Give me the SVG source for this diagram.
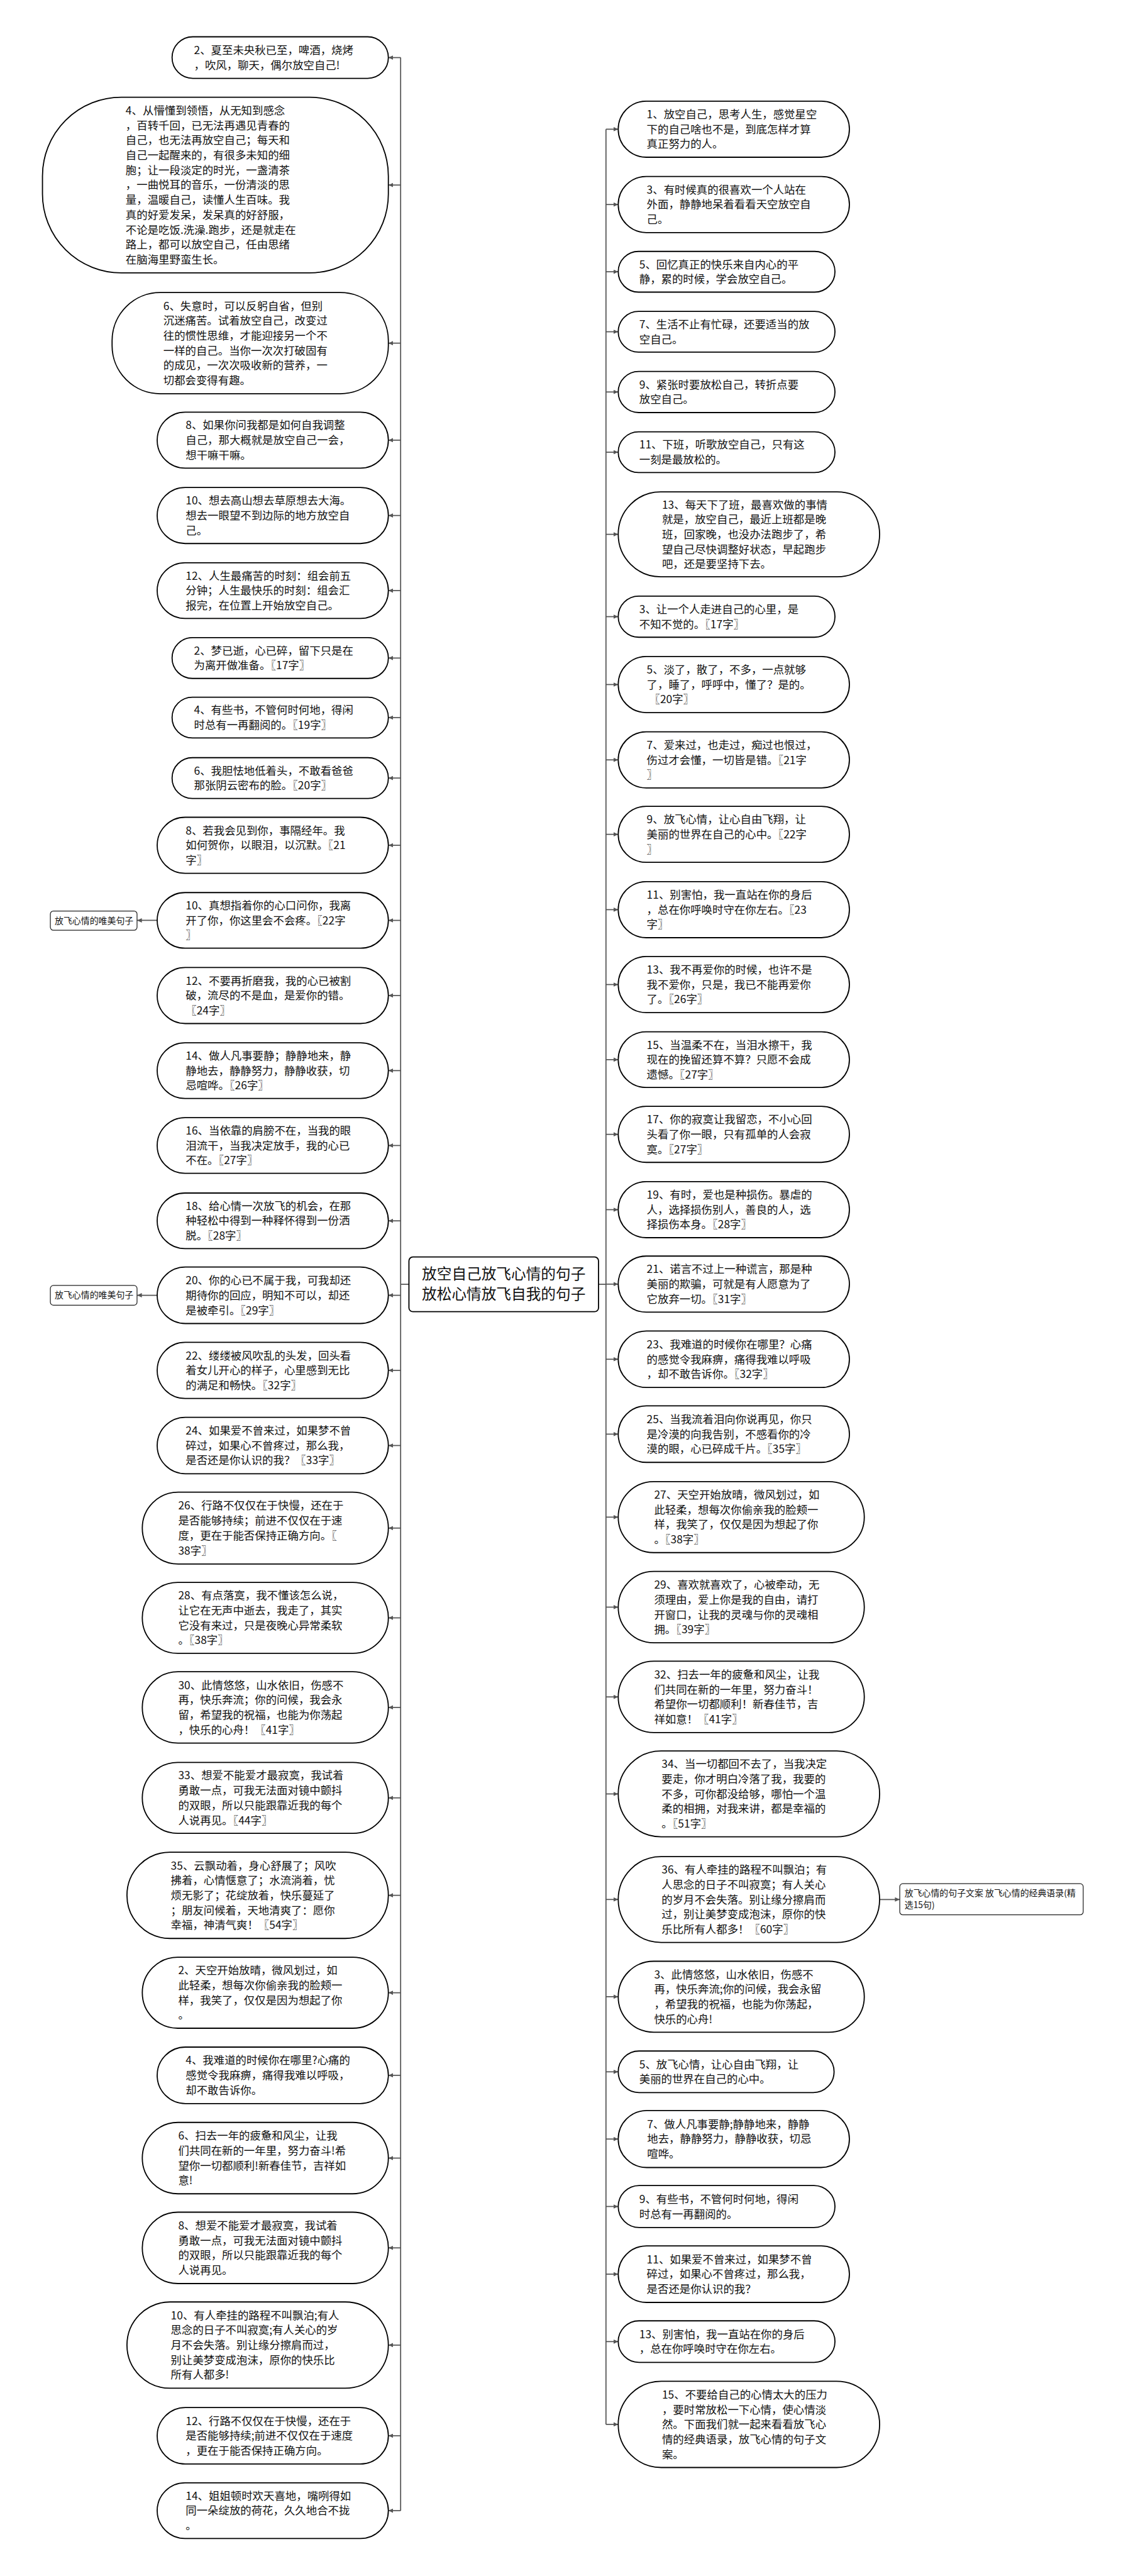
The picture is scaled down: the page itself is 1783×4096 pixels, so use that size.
<svg xmlns="http://www.w3.org/2000/svg" width="1783" height="4096" viewBox="0 0 1783 4096">
<style>
.n{fill:#fff;stroke:#000;stroke-width:2.6}
.b{fill:#fff;stroke:#000;stroke-width:2.6}
.lb{fill:#fff;stroke:#222;stroke-width:1.8}
.t{font-family:"Noto Sans CJK SC","Noto Sans",sans-serif;font-size:25px;fill:#111}
.s{font-family:"Noto Sans CJK SC","Noto Sans",sans-serif;font-size:20px;fill:#111}
.m{font-family:"Noto Sans CJK SC","Noto Sans",sans-serif;font-size:34px;fill:#111;text-anchor:middle}
.c{fill:none;stroke:#555;stroke-width:2.5}
</style>
<defs>
<marker id="ar" markerUnits="userSpaceOnUse" markerWidth="12" markerHeight="10" refX="11" refY="5" orient="auto"><path d="M0,0 L11,5 L0,10 z" fill="#555"/></marker>
</defs>
<rect width="1783" height="4096" fill="#fff"/>
<g transform="scale(0.6964)">
<g id="connectors">
<path class="c" d="M934,2932.5 H915 M915,131.5 V5732.5 M1367,2932.5 H1384 M1384,295 V5535.5"/>
<g marker-end="url(#ar)">
<path class="c" d="M915,131.5 H887"/><path class="c" d="M915,422.5 H887"/><path class="c" d="M915,783.5 H887"/><path class="c" d="M915,1005 H887"/><path class="c" d="M915,1177 H887"/><path class="c" d="M915,1348.5 H887"/><path class="c" d="M915,1502.5 H887"/><path class="c" d="M915,1638.5 H887"/><path class="c" d="M915,1776.5 H887"/><path class="c" d="M915,1930 H887"/><path class="c" d="M915,2101.5 H887"/><path class="c" d="M915,2273 H887"/><path class="c" d="M915,2444.5 H887"/><path class="c" d="M915,2615.5 H887"/><path class="c" d="M915,2787.5 H887"/><path class="c" d="M915,2957.5 H887"/><path class="c" d="M915,3129 H887"/><path class="c" d="M915,3300.5 H887"/><path class="c" d="M915,3489 H887"/><path class="c" d="M915,3694 H887"/><path class="c" d="M915,3898.5 H887"/><path class="c" d="M915,4105 H887"/><path class="c" d="M915,4327.5 H887"/><path class="c" d="M915,4550 H887"/><path class="c" d="M915,4738.5 H887"/><path class="c" d="M915,4927.5 H887"/><path class="c" d="M915,5132.5 H887"/><path class="c" d="M915,5354.5 H887"/><path class="c" d="M915,5561.5 H887"/><path class="c" d="M915,5732.5 H887"/>
<path class="c" d="M1384,295 H1412"/><path class="c" d="M1384,467 H1412"/><path class="c" d="M1384,620.5 H1412"/><path class="c" d="M1384,757.5 H1412"/><path class="c" d="M1384,895 H1412"/><path class="c" d="M1384,1032.5 H1412"/><path class="c" d="M1384,1220 H1412"/><path class="c" d="M1384,1408 H1412"/><path class="c" d="M1384,1563 H1412"/><path class="c" d="M1384,1735 H1412"/><path class="c" d="M1384,1905 H1412"/><path class="c" d="M1384,2077 H1412"/><path class="c" d="M1384,2248 H1412"/><path class="c" d="M1384,2419.5 H1412"/><path class="c" d="M1384,2590 H1412"/><path class="c" d="M1384,2762 H1412"/><path class="c" d="M1384,2932 H1412"/><path class="c" d="M1384,3103.5 H1412"/><path class="c" d="M1384,3274.5 H1412"/><path class="c" d="M1384,3464 H1412"/><path class="c" d="M1384,3669.5 H1412"/><path class="c" d="M1384,3874.5 H1412"/><path class="c" d="M1384,4096 H1412"/><path class="c" d="M1384,4337 H1412"/><path class="c" d="M1384,4559 H1412"/><path class="c" d="M1384,4730.5 H1412"/><path class="c" d="M1384,4884 H1412"/><path class="c" d="M1384,5038 H1412"/><path class="c" d="M1384,5192.5 H1412"/><path class="c" d="M1384,5346.5 H1412"/><path class="c" d="M1384,5535.5 H1412"/>
<path class="c" d="M359,2101.5 H313"/><path class="c" d="M359,2957.5 H313"/><path class="c" d="M2009,4337 H2055"/>
</g>
</g>

<g id="center"><rect class="b" x="934" y="2870" width="433" height="125" rx="9"/><text class="m" y="2921"><tspan x="1150.5">放空自己放飞心情的句子</tspan><tspan x="1150.5" dy="45">放松心情放飞自我的句子</tspan></text></g>

<g id="label-left-1"><rect class="lb" x="115" y="2080" width="198" height="44" rx="7"/><text class="s" x="125" y="2109">放飞心情的唯美句子</text></g>
<g id="label-left-2"><rect class="lb" x="115" y="2935" width="198" height="45" rx="7"/><text class="s" x="125" y="2964.5">放飞心情的唯美句子</text></g>
<g id="label-right"><rect class="lb" x="2055" y="4301" width="419" height="71" rx="7"/><text class="s" y="4330"><tspan x="2066">放飞心情的句子文案 放飞心情的经典语录(精</tspan><tspan x="2066" dy="26">选15句)</tspan></text></g>

<g id="L1"><rect class="n" x="393" y="84" width="494" height="95" rx="47.5"/><text class="t" y="123.5"><tspan x="443">2、夏至未央秋已至，啤酒，烧烤</tspan><tspan x="443" dy="34">，吹风，聊天，偶尔放空自己!</tspan></text></g>
<g id="L2"><rect class="n" x="97" y="222" width="790" height="401" rx="180"/><text class="t" y="261.5"><tspan x="287">4、从懵懂到领悟，从无知到感念</tspan><tspan x="287" dy="34">，百转千回，已无法再遇见青春的</tspan><tspan x="287" dy="34">自己，也无法再放空自己；每天和</tspan><tspan x="287" dy="34">自己一起醒来的，有很多未知的细</tspan><tspan x="287" dy="34">胞；让一段淡定的时光，一盏清茶</tspan><tspan x="287" dy="34">，一曲悦耳的音乐，一份清淡的思</tspan><tspan x="287" dy="34">量，温暖自己，读懂人生百味。我</tspan><tspan x="287" dy="34">真的好爱发呆，发呆真的好舒服，</tspan><tspan x="287" dy="34">不论是吃饭.洗澡.跑步，还是就走在</tspan><tspan x="287" dy="34">路上，都可以放空自己，任由思绪</tspan><tspan x="287" dy="34">在脑海里野蛮生长。</tspan></text></g>
<g id="L3"><rect class="n" x="256" y="668" width="631" height="231" rx="110"/><text class="t" y="707.5"><tspan x="373">6、失意时，可以反躬自省，但别</tspan><tspan x="373" dy="34">沉迷痛苦。试着放空自己，改变过</tspan><tspan x="373" dy="34">往的惯性思维，才能迎接另一个不</tspan><tspan x="373" dy="34">一样的自己。当你一次次打破固有</tspan><tspan x="373" dy="34">的成见，一次次吸收新的营养，一</tspan><tspan x="373" dy="34">切都会变得有趣。</tspan></text></g>
<g id="L4"><rect class="n" x="359" y="941" width="528" height="128" rx="64"/><text class="t" y="980"><tspan x="424">8、如果你问我都是如何自我调整</tspan><tspan x="424" dy="34">自己，那大概就是放空自己一会，</tspan><tspan x="424" dy="34">想干嘛干嘛。</tspan></text></g>
<g id="L5"><rect class="n" x="359" y="1113" width="528" height="128" rx="64"/><text class="t" y="1152"><tspan x="424">10、想去高山想去草原想去大海。</tspan><tspan x="424" dy="34">想去一眼望不到边际的地方放空自</tspan><tspan x="424" dy="34">己。</tspan></text></g>
<g id="L6"><rect class="n" x="359" y="1285" width="528" height="127" rx="63.5"/><text class="t" y="1323.5"><tspan x="424">12、人生最痛苦的时刻：组会前五</tspan><tspan x="424" dy="34">分钟；人生最快乐的时刻：组会汇</tspan><tspan x="424" dy="34">报完，在位置上开始放空自己。</tspan></text></g>
<g id="L7"><rect class="n" x="393" y="1456" width="494" height="93" rx="46.5"/><text class="t" y="1494.5"><tspan x="443">2、梦已逝，心已碎，留下只是在</tspan><tspan x="443" dy="34">为离开做准备。〖17字〗</tspan></text></g>
<g id="L8"><rect class="n" x="393" y="1592" width="494" height="93" rx="46.5"/><text class="t" y="1630.5"><tspan x="443">4、有些书，不管何时何地，得闲</tspan><tspan x="443" dy="34">时总有一再翻阅的。〖19字〗</tspan></text></g>
<g id="L9"><rect class="n" x="393" y="1730" width="494" height="93" rx="46.5"/><text class="t" y="1768.5"><tspan x="443">6、我胆怯地低着头，不敢看爸爸</tspan><tspan x="443" dy="34">那张阴云密布的脸。〖20字〗</tspan></text></g>
<g id="L10"><rect class="n" x="359" y="1866" width="528" height="128" rx="64"/><text class="t" y="1905"><tspan x="424">8、若我会见到你，事隔经年。我</tspan><tspan x="424" dy="34">如何贺你，以眼泪，以沉默。〖21</tspan><tspan x="424" dy="34">字〗</tspan></text></g>
<g id="L11"><rect class="n" x="359" y="2038" width="528" height="127" rx="63.5"/><text class="t" y="2076.5"><tspan x="424">10、真想指着你的心口问你，我离</tspan><tspan x="424" dy="34">开了你，你这里会不会疼。〖22字</tspan><tspan x="424" dy="34">〗</tspan></text></g>
<g id="L12"><rect class="n" x="359" y="2209" width="528" height="128" rx="64"/><text class="t" y="2248"><tspan x="424">12、不要再折磨我，我的心已被割</tspan><tspan x="424" dy="34">破，流尽的不是血，是爱你的错。</tspan><tspan x="424" dy="34">〖24字〗</tspan></text></g>
<g id="L13"><rect class="n" x="359" y="2381" width="528" height="127" rx="63.5"/><text class="t" y="2419.5"><tspan x="424">14、做人凡事要静；静静地来，静</tspan><tspan x="424" dy="34">静地去，静静努力，静静收获，切</tspan><tspan x="424" dy="34">忌喧哗。〖26字〗</tspan></text></g>
<g id="L14"><rect class="n" x="359" y="2552" width="528" height="127" rx="63.5"/><text class="t" y="2590.5"><tspan x="424">16、当依靠的肩膀不在，当我的眼</tspan><tspan x="424" dy="34">泪流干，当我决定放手，我的心已</tspan><tspan x="424" dy="34">不在。〖27字〗</tspan></text></g>
<g id="L15"><rect class="n" x="359" y="2724" width="528" height="127" rx="63.5"/><text class="t" y="2762.5"><tspan x="424">18、给心情一次放飞的机会，在那</tspan><tspan x="424" dy="34">种轻松中得到一种释怀得到一份洒</tspan><tspan x="424" dy="34">脱。〖28字〗</tspan></text></g>
<g id="L16"><rect class="n" x="359" y="2893" width="528" height="129" rx="64.5"/><text class="t" y="2932.5"><tspan x="424">20、你的心已不属于我，可我却还</tspan><tspan x="424" dy="34">期待你的回应，明知不可以，却还</tspan><tspan x="424" dy="34">是被牵引。〖29字〗</tspan></text></g>
<g id="L17"><rect class="n" x="359" y="3065" width="528" height="128" rx="64"/><text class="t" y="3104"><tspan x="424">22、缕缕被风吹乱的头发，回头看</tspan><tspan x="424" dy="34">着女儿开心的样子，心里感到无比</tspan><tspan x="424" dy="34">的满足和畅快。〖32字〗</tspan></text></g>
<g id="L18"><rect class="n" x="359" y="3236" width="528" height="129" rx="64.5"/><text class="t" y="3275.5"><tspan x="424">24、如果爱不曾来过，如果梦不曾</tspan><tspan x="424" dy="34">碎过，如果心不曾疼过，那么我，</tspan><tspan x="424" dy="34">是否还是你认识的我？〖33字〗</tspan></text></g>
<g id="L19"><rect class="n" x="325" y="3407" width="562" height="164" rx="82"/><text class="t" y="3447"><tspan x="407">26、行路不仅仅在于快慢，还在于</tspan><tspan x="407" dy="34">是否能够持续；前进不仅仅在于速</tspan><tspan x="407" dy="34">度，更在于能否保持正确方向。〖</tspan><tspan x="407" dy="34">38字〗</tspan></text></g>
<g id="L20"><rect class="n" x="325" y="3613" width="562" height="162" rx="81"/><text class="t" y="3652"><tspan x="407">28、有点落寞，我不懂该怎么说，</tspan><tspan x="407" dy="34">让它在无声中逝去，我走了，其实</tspan><tspan x="407" dy="34">它没有来过，只是夜晚心异常柔软</tspan><tspan x="407" dy="34">。〖38字〗</tspan></text></g>
<g id="L21"><rect class="n" x="325" y="3817" width="562" height="163" rx="81.5"/><text class="t" y="3856.5"><tspan x="407">30、此情悠悠，山水依旧，伤感不</tspan><tspan x="407" dy="34">再，快乐奔流；你的问候，我会永</tspan><tspan x="407" dy="34">留，希望我的祝福，也能为你荡起</tspan><tspan x="407" dy="34">，快乐的心舟！〖41字〗</tspan></text></g>
<g id="L22"><rect class="n" x="325" y="4024" width="562" height="162" rx="81"/><text class="t" y="4063"><tspan x="407">33、想爱不能爱才最寂寞，我试着</tspan><tspan x="407" dy="34">勇敢一点，可我无法面对镜中颤抖</tspan><tspan x="407" dy="34">的双眼，所以只能跟靠近我的每个</tspan><tspan x="407" dy="34">人说再见。〖44字〗</tspan></text></g>
<g id="L23"><rect class="n" x="290" y="4229" width="597" height="197" rx="98.5"/><text class="t" y="4268.5"><tspan x="390">35、云飘动着，身心舒展了；风吹</tspan><tspan x="390" dy="34">拂着，心情惬意了；水流淌着，忧</tspan><tspan x="390" dy="34">烦无影了；花绽放着，快乐蔓延了</tspan><tspan x="390" dy="34">；朋友问候着，天地清爽了：愿你</tspan><tspan x="390" dy="34">幸福，神清气爽！〖54字〗</tspan></text></g>
<g id="L24"><rect class="n" x="325" y="4469" width="562" height="162" rx="81"/><text class="t" y="4508"><tspan x="407">2、天空开始放晴，微风划过，如</tspan><tspan x="407" dy="34">此轻柔，想每次你偷亲我的脸颊一</tspan><tspan x="407" dy="34">样，我笑了，仅仅是因为想起了你</tspan><tspan x="407" dy="34">。</tspan></text></g>
<g id="L25"><rect class="n" x="359" y="4674" width="528" height="129" rx="64.5"/><text class="t" y="4713.5"><tspan x="424">4、我难道的时候你在哪里?心痛的</tspan><tspan x="424" dy="34">感觉令我麻痹，痛得我难以呼吸，</tspan><tspan x="424" dy="34">却不敢告诉你。</tspan></text></g>
<g id="L26"><rect class="n" x="325" y="4846" width="562" height="163" rx="81.5"/><text class="t" y="4885.5"><tspan x="407">6、扫去一年的疲惫和风尘，让我</tspan><tspan x="407" dy="34">们共同在新的一年里，努力奋斗!希</tspan><tspan x="407" dy="34">望你一切都顺利!新春佳节，吉祥如</tspan><tspan x="407" dy="34">意!</tspan></text></g>
<g id="L27"><rect class="n" x="325" y="5051" width="562" height="163" rx="81.5"/><text class="t" y="5090.5"><tspan x="407">8、想爱不能爱才最寂寞，我试着</tspan><tspan x="407" dy="34">勇敢一点，可我无法面对镜中颤抖</tspan><tspan x="407" dy="34">的双眼，所以只能跟靠近我的每个</tspan><tspan x="407" dy="34">人说再见。</tspan></text></g>
<g id="L28"><rect class="n" x="290" y="5256" width="597" height="197" rx="98.5"/><text class="t" y="5295.5"><tspan x="390">10、有人牵挂的路程不叫飘泊;有人</tspan><tspan x="390" dy="34">思念的日子不叫寂寞;有人关心的岁</tspan><tspan x="390" dy="34">月不会失落。别让缘分擦肩而过，</tspan><tspan x="390" dy="34">别让美梦变成泡沫，原你的快乐比</tspan><tspan x="390" dy="34">所有人都多!</tspan></text></g>
<g id="L29"><rect class="n" x="359" y="5497" width="528" height="129" rx="64.5"/><text class="t" y="5536.5"><tspan x="424">12、行路不仅仅在于快慢，还在于</tspan><tspan x="424" dy="34">是否能够持续;前进不仅仅在于速度</tspan><tspan x="424" dy="34">，更在于能否保持正确方向。</tspan></text></g>
<g id="L30"><rect class="n" x="359" y="5669" width="528" height="127" rx="63.5"/><text class="t" y="5707.5"><tspan x="424">14、姐姐顿时欢天喜地，嘴咧得如</tspan><tspan x="424" dy="34">同一朵绽放的荷花，久久地合不拢</tspan><tspan x="424" dy="34">。</tspan></text></g>

<g id="R1"><rect class="n" x="1412" y="231" width="528" height="128" rx="64"/><text class="t" y="270"><tspan x="1477">1、放空自己，思考人生，感觉星空</tspan><tspan x="1477" dy="34">下的自己啥也不是，到底怎样才算</tspan><tspan x="1477" dy="34">真正努力的人。</tspan></text></g>
<g id="R2"><rect class="n" x="1412" y="403" width="528" height="128" rx="64"/><text class="t" y="442"><tspan x="1477">3、有时候真的很喜欢一个人站在</tspan><tspan x="1477" dy="34">外面，静静地呆着看看天空放空自</tspan><tspan x="1477" dy="34">己。</tspan></text></g>
<g id="R3"><rect class="n" x="1412" y="574" width="495" height="93" rx="46.5"/><text class="t" y="612.5"><tspan x="1460">5、回忆真正的快乐来自内心的平</tspan><tspan x="1460" dy="34">静，累的时候，学会放空自己。</tspan></text></g>
<g id="R4"><rect class="n" x="1412" y="711" width="495" height="93" rx="46.5"/><text class="t" y="749.5"><tspan x="1460">7、生活不止有忙碌，还要适当的放</tspan><tspan x="1460" dy="34">空自己。</tspan></text></g>
<g id="R5"><rect class="n" x="1412" y="848" width="495" height="94" rx="47"/><text class="t" y="887"><tspan x="1460">9、紧张时要放松自己，转折点要</tspan><tspan x="1460" dy="34">放空自己。</tspan></text></g>
<g id="R6"><rect class="n" x="1412" y="986" width="495" height="93" rx="46.5"/><text class="t" y="1024.5"><tspan x="1460">11、下班，听歌放空自己，只有这</tspan><tspan x="1460" dy="34">一刻是最放松的。</tspan></text></g>
<g id="R7"><rect class="n" x="1412" y="1123" width="597" height="194" rx="97"/><text class="t" y="1161"><tspan x="1512">13、每天下了班，最喜欢做的事情</tspan><tspan x="1512" dy="34">就是，放空自己，最近上班都是晚</tspan><tspan x="1512" dy="34">班，回家晚，也没办法跑步了，希</tspan><tspan x="1512" dy="34">望自己尽快调整好状态，早起跑步</tspan><tspan x="1512" dy="34">吧，还是要坚持下去。</tspan></text></g>
<g id="R8"><rect class="n" x="1412" y="1361" width="495" height="94" rx="47"/><text class="t" y="1400"><tspan x="1460">3、让一个人走进自己的心里，是</tspan><tspan x="1460" dy="34">不知不觉的。〖17字〗</tspan></text></g>
<g id="R9"><rect class="n" x="1412" y="1499" width="528" height="128" rx="64"/><text class="t" y="1538"><tspan x="1477">5、淡了，散了，不多，一点就够</tspan><tspan x="1477" dy="34">了，睡了，呼呼中，懂了？是的。</tspan><tspan x="1477" dy="34"> 〖20字〗</tspan></text></g>
<g id="R10"><rect class="n" x="1412" y="1671" width="528" height="128" rx="64"/><text class="t" y="1710"><tspan x="1477">7、爱来过，也走过，痴过也恨过，</tspan><tspan x="1477" dy="34">伤过才会懂，一切皆是错。〖21字</tspan><tspan x="1477" dy="34">〗</tspan></text></g>
<g id="R11"><rect class="n" x="1412" y="1841" width="528" height="128" rx="64"/><text class="t" y="1880"><tspan x="1477">9、放飞心情，让心自由飞翔，让</tspan><tspan x="1477" dy="34">美丽的世界在自己的心中。〖22字</tspan><tspan x="1477" dy="34">〗</tspan></text></g>
<g id="R12"><rect class="n" x="1412" y="2013" width="528" height="128" rx="64"/><text class="t" y="2052"><tspan x="1477">11、别害怕，我一直站在你的身后</tspan><tspan x="1477" dy="34">，总在你呼唤时守在你左右。〖23</tspan><tspan x="1477" dy="34">字〗</tspan></text></g>
<g id="R13"><rect class="n" x="1412" y="2184" width="528" height="128" rx="64"/><text class="t" y="2223"><tspan x="1477">13、我不再爱你的时候，也许不是</tspan><tspan x="1477" dy="34">我不爱你，只是，我已不能再爱你</tspan><tspan x="1477" dy="34">了。〖26字〗</tspan></text></g>
<g id="R14"><rect class="n" x="1412" y="2356" width="528" height="127" rx="63.5"/><text class="t" y="2394.5"><tspan x="1477">15、当温柔不在，当泪水擦干，我</tspan><tspan x="1477" dy="34">现在的挽留还算不算？只愿不会成</tspan><tspan x="1477" dy="34">遗憾。〖27字〗</tspan></text></g>
<g id="R15"><rect class="n" x="1412" y="2526" width="528" height="128" rx="64"/><text class="t" y="2565"><tspan x="1477">17、你的寂寞让我留恋，不小心回</tspan><tspan x="1477" dy="34">头看了你一眼，只有孤单的人会寂</tspan><tspan x="1477" dy="34">寞。〖27字〗</tspan></text></g>
<g id="R16"><rect class="n" x="1412" y="2698" width="528" height="128" rx="64"/><text class="t" y="2737"><tspan x="1477">19、有时，爱也是种损伤。暴虐的</tspan><tspan x="1477" dy="34">人，选择损伤别人，善良的人，选</tspan><tspan x="1477" dy="34">择损伤本身。〖28字〗</tspan></text></g>
<g id="R17"><rect class="n" x="1412" y="2868" width="528" height="128" rx="64"/><text class="t" y="2907"><tspan x="1477">21、诺言不过上一种谎言，那是种</tspan><tspan x="1477" dy="34">美丽的欺骗，可就是有人愿意为了</tspan><tspan x="1477" dy="34">它放弃一切。〖31字〗</tspan></text></g>
<g id="R18"><rect class="n" x="1412" y="3039" width="528" height="129" rx="64.5"/><text class="t" y="3078.5"><tspan x="1477">23、我难道的时候你在哪里？心痛</tspan><tspan x="1477" dy="34">的感觉令我麻痹，痛得我难以呼吸</tspan><tspan x="1477" dy="34">，却不敢告诉你。〖32字〗</tspan></text></g>
<g id="R19"><rect class="n" x="1412" y="3210" width="528" height="129" rx="64.5"/><text class="t" y="3249.5"><tspan x="1477">25、当我流着泪向你说再见，你只</tspan><tspan x="1477" dy="34">是冷漠的向我告别，不感看你的冷</tspan><tspan x="1477" dy="34">漠的眼，心已碎成千片。〖35字〗</tspan></text></g>
<g id="R20"><rect class="n" x="1412" y="3383" width="562" height="162" rx="81"/><text class="t" y="3422"><tspan x="1494">27、天空开始放晴，微风划过，如</tspan><tspan x="1494" dy="34">此轻柔，想每次你偷亲我的脸颊一</tspan><tspan x="1494" dy="34">样，我笑了，仅仅是因为想起了你</tspan><tspan x="1494" dy="34">。〖38字〗</tspan></text></g>
<g id="R21"><rect class="n" x="1412" y="3588" width="562" height="163" rx="81.5"/><text class="t" y="3627.5"><tspan x="1494">29、喜欢就喜欢了，心被牵动，无</tspan><tspan x="1494" dy="34">须理由，爱上你是我的自由，请打</tspan><tspan x="1494" dy="34">开窗口，让我的灵魂与你的灵魂相</tspan><tspan x="1494" dy="34">拥。〖39字〗</tspan></text></g>
<g id="R22"><rect class="n" x="1412" y="3793" width="562" height="163" rx="81.5"/><text class="t" y="3832.5"><tspan x="1494">32、扫去一年的疲惫和风尘，让我</tspan><tspan x="1494" dy="34">们共同在新的一年里，努力奋斗！</tspan><tspan x="1494" dy="34">希望你一切都顺利！新春佳节，吉</tspan><tspan x="1494" dy="34">祥如意！〖41字〗</tspan></text></g>
<g id="R23"><rect class="n" x="1412" y="3998" width="597" height="196" rx="98"/><text class="t" y="4037"><tspan x="1511">34、当一切都回不去了，当我决定</tspan><tspan x="1511" dy="34">要走，你才明白冷落了我，我要的</tspan><tspan x="1511" dy="34">不多，可你都没给够，哪怕一个温</tspan><tspan x="1511" dy="34">柔的相拥，对我来讲，都是幸福的</tspan><tspan x="1511" dy="34">。〖51字〗</tspan></text></g>
<g id="R24"><rect class="n" x="1412" y="4239" width="597" height="196" rx="98"/><text class="t" y="4278"><tspan x="1511">36、有人牵挂的路程不叫飘泊；有</tspan><tspan x="1511" dy="34">人思念的日子不叫寂寞；有人关心</tspan><tspan x="1511" dy="34">的岁月不会失落。别让缘分擦肩而</tspan><tspan x="1511" dy="34">过，别让美梦变成泡沫，原你的快</tspan><tspan x="1511" dy="34">乐比所有人都多！〖60字〗</tspan></text></g>
<g id="R25"><rect class="n" x="1412" y="4478" width="562" height="162" rx="81"/><text class="t" y="4517"><tspan x="1494">3、此情悠悠，山水依旧，伤感不</tspan><tspan x="1494" dy="34">再，快乐奔流;你的问候，我会永留</tspan><tspan x="1494" dy="34">，希望我的祝福，也能为你荡起，</tspan><tspan x="1494" dy="34">快乐的心舟!</tspan></text></g>
<g id="R26"><rect class="n" x="1412" y="4683" width="493" height="95" rx="47.5"/><text class="t" y="4722.5"><tspan x="1460">5、放飞心情，让心自由飞翔，让</tspan><tspan x="1460" dy="34">美丽的世界在自己的心中。</tspan></text></g>
<g id="R27"><rect class="n" x="1412" y="4819" width="528" height="130" rx="65"/><text class="t" y="4859"><tspan x="1478">7、做人凡事要静;静静地来，静静</tspan><tspan x="1478" dy="34">地去，静静努力，静静收获，切忌</tspan><tspan x="1478" dy="34">喧哗。</tspan></text></g>
<g id="R28"><rect class="n" x="1412" y="4990" width="495" height="96" rx="48"/><text class="t" y="5030"><tspan x="1460">9、有些书，不管何时何地，得闲</tspan><tspan x="1460" dy="34">时总有一再翻阅的。</tspan></text></g>
<g id="R29"><rect class="n" x="1412" y="5128" width="528" height="129" rx="64.5"/><text class="t" y="5167.5"><tspan x="1477">11、如果爱不曾来过，如果梦不曾</tspan><tspan x="1477" dy="34">碎过，如果心不曾疼过，那么我，</tspan><tspan x="1477" dy="34">是否还是你认识的我？</tspan></text></g>
<g id="R30"><rect class="n" x="1412" y="5299" width="495" height="95" rx="47.5"/><text class="t" y="5338.5"><tspan x="1460">13、别害怕，我一直站在你的身后</tspan><tspan x="1460" dy="34">，总在你呼唤时守在你左右。</tspan></text></g>
<g id="R31"><rect class="n" x="1412" y="5437" width="597" height="197" rx="98.5"/><text class="t" y="5476.5"><tspan x="1512">15、不要给自己的心情太大的压力</tspan><tspan x="1512" dy="34">，要时常放松一下心情，使心情淡</tspan><tspan x="1512" dy="34">然。下面我们就一起来看看放飞心</tspan><tspan x="1512" dy="34">情的经典语录，放飞心情的句子文</tspan><tspan x="1512" dy="34">案。</tspan></text></g>
</g>
</svg>
